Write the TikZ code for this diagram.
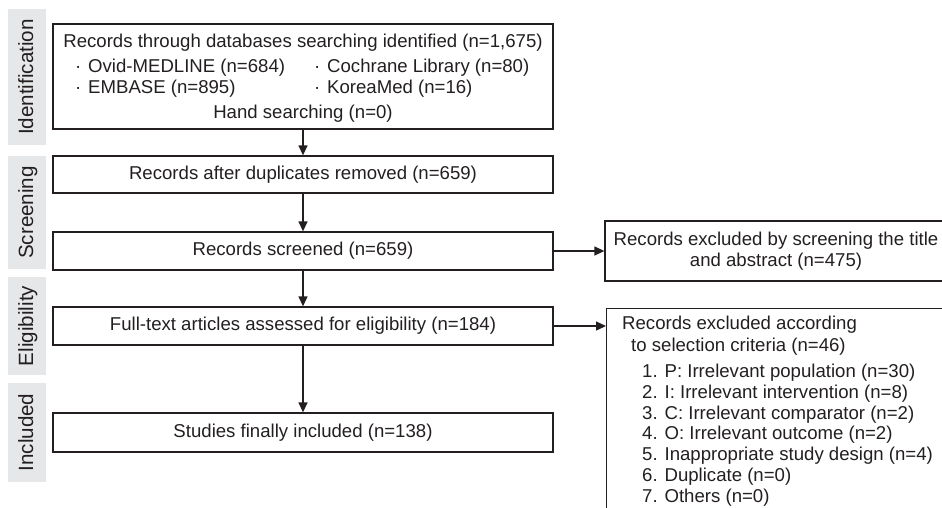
\documentclass[tikz,border=0pt]{standalone}
\usepackage{fontspec}
\setmainfont{Liberation Sans}
\usetikzlibrary{arrows.meta}
\definecolor{ink}{HTML}{231F20}
\definecolor{bandgray}{HTML}{E6E7E8}
\begin{document}
\begin{tikzpicture}[x=1pt,y=-1pt,
 box/.style={draw=ink, line width=1.3pt, inner sep=0pt, minimum width=500pt,
   font=\fontsize{18.6}{21}\selectfont, text=ink},
 txt/.style={font=\fontsize{18.6}{21}\selectfont, text=ink, inner sep=0pt},
 band/.style={fill=bandgray, inner sep=0pt, minimum width=38pt},
 bandtxt/.style={font=\fontsize{20.6}{24}\selectfont, text=ink, rotate=90, inner sep=0pt, anchor=base},
 arr/.style={draw=ink, line width=1.3pt, -{Triangle[length=10pt,width=9pt]}}]
\useasboundingbox (0,0) rectangle (942,507);
\clip (0,0) rectangle (942,507);

% phase bands
\node[band, minimum height=136pt] (b1) at (27,77) {};
\node[band, minimum height=113pt] (b2) at (27,212.5) {};
\node[band, minimum height=98pt] (b3) at (27,326) {};
\node[band, minimum height=99pt] (b4) at (27,432.5) {};
\node[bandtxt] (l1) at (33,77) {Identification};
\node[bandtxt] (l2) at (33,212.5) {Screening};
\node[bandtxt] (l3) at (33,326) {Eligibility};
\node[bandtxt] (l4) at (33,432.5) {Included};

% main boxes
\node[box, minimum height=105pt] (n1) at (303,76.5) {};
\node[txt, anchor=base] (t1) at (303,47) {Records through databases searching identified (n=1,675)};
\node[txt, anchor=base west] (t2) at (68,72) {\makebox[20pt]{·}Ovid-MEDLINE (n=684)};
\node[txt, anchor=base west] (t3) at (307,72) {\makebox[20pt]{·}Cochrane Library (n=80)};
\node[txt, anchor=base west] (t4) at (68,93) {\makebox[20pt]{·}EMBASE (n=895)};
\node[txt, anchor=base west] (t5) at (307,93) {\makebox[20pt]{·}KoreaMed (n=16)};
\node[txt, anchor=base] (t6) at (303,118) {Hand searching (n=0)};

\node[box, minimum height=37pt] (n2) at (303,174.5) {Records after duplicates removed (n=659)};
\node[box, minimum height=38pt] (n3) at (303,251) {Records screened (n=659)};
\node[box, minimum height=38pt] (n4) at (303,326) {Full-text articles assessed for eligibility (n=184)};
\node[box, minimum height=39pt] (n5) at (303,432.5) {Studies finally included (n=138)};

% exclusion boxes
\node[box, minimum width=342pt, minimum height=60pt, align=center] (e1) at (776,251)
  {Records excluded by screening the title\\and abstract (n=475)};
\node[box, minimum width=354pt, minimum height=232pt, anchor=north west] (e2) at (606,308) {};
\node[txt, anchor=base west] (r1) at (622,329) {Records excluded according};
\node[txt, anchor=base west] (r2) at (631,351) {to selection criteria (n=46)};
\node[txt, anchor=base west] (i1) at (642,377) {1. P: Irrelevant population (n=30)};
\node[txt, anchor=base west] (i2) at (642,398) {2. I: Irrelevant intervention (n=8)};
\node[txt, anchor=base west] (i3) at (642,419) {3. C: Irrelevant comparator (n=2)};
\node[txt, anchor=base west] (i4) at (642,439.5) {4. O: Irrelevant outcome (n=2)};
\node[txt, anchor=base west] (i5) at (642,460.5) {5. Inappropriate study design (n=4)};
\node[txt, anchor=base west] (i6) at (642,481) {6. Duplicate (n=0)};
\node[txt, anchor=base west] (i7) at (642,502) {7. Others (n=0)};

% connectors
\draw[arr] (n1.south) -- (n2.north);
\draw[arr] (n2.south) -- (n3.north);
\draw[arr] (n3.south) -- (n4.north);
\draw[arr] (n4.south) -- (n5.north);
\draw[arr] (n3.east) -- (e1.west);
\draw[arr] (n4.east) -- (n4.east -| e2.west);
\end{tikzpicture}
\end{document}
